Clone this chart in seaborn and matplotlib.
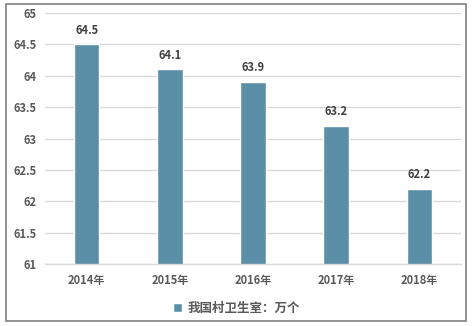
import matplotlib
matplotlib.use("Agg")
import matplotlib.pyplot as plt
from matplotlib.patches import Rectangle
import seaborn as sns
import pandas as pd

years = ["2014年", "2015年", "2016年", "2017年", "2018年"]
values = [64.5, 64.1, 63.9, 63.2, 62.2]
series_name = "我国村卫生室：万个"
y_ticks = [61, 61.5, 62, 62.5, 63, 63.5, 64, 64.5, 65]

sns.set_theme(style="white")
plt.rcParams["font.family"] = ["Noto Sans CJK SC", "DejaVu Sans"]

df = pd.DataFrame({"year": years, "value": values})

W, H = 473, 326
fig = plt.figure(figsize=(W / 100, H / 100), dpi=100)
ax = fig.add_axes([45 / W, 1 - 264 / H, (461 - 45) / W, (264 - 13) / H])

bar_color = "#5B8FA8"
sns.barplot(data=df, x="year", y="value", color=bar_color, width=0.31,
            saturation=1, ax=ax, label=series_name)

ax.set_ylim(61, 65)
ax.set_yticks(y_ticks)
ax.set_yticklabels([f"{t:g}" for t in y_ticks])
ax.set_xlim(-0.5, len(years) - 0.5)
ax.yaxis.grid(True, color="#D9D9D9", linewidth=1)
ax.set_axisbelow(True)
for s in ["left", "right", "top"]:
    ax.spines[s].set_visible(False)
ax.spines["bottom"].set_color("#D9D9D9")
ax.spines["bottom"].set_linewidth(1)
ax.set_xlabel("")
ax.set_ylabel("")
ax.tick_params(axis="both", length=0, labelsize=8, labelcolor="#595959")
ax.tick_params(axis="y", pad=6)
ax.tick_params(axis="x", pad=7)
for lbl in ax.get_xticklabels() + ax.get_yticklabels():
    lbl.set_fontweight("bold")

for i, v in enumerate(values):
    ax.text(i, v + 0.12, f"{v:.1f}", ha="center", va="bottom",
            fontsize=8, fontweight="bold", color="#404040")

# legend centred on the figure rather than the axes
leg = fig.legend(loc="center", bbox_to_anchor=(0.5, 1 - 308 / H), frameon=False,
                 handlelength=0.7, handleheight=0.7, handletextpad=0.4,
                 prop={"size": 9, "weight": "bold"})
ax.get_legend().remove() if ax.get_legend() else None
for t in leg.get_texts():
    t.set_color("#595959")

fig.patches.append(Rectangle((6 / W, 1 - 321 / H), (466 - 6) / W, (321 - 4) / H,
                             transform=fig.transFigure, fill=False,
                             edgecolor="#808080", linewidth=1.2))

fig.savefig("out.png", dpi=100)
